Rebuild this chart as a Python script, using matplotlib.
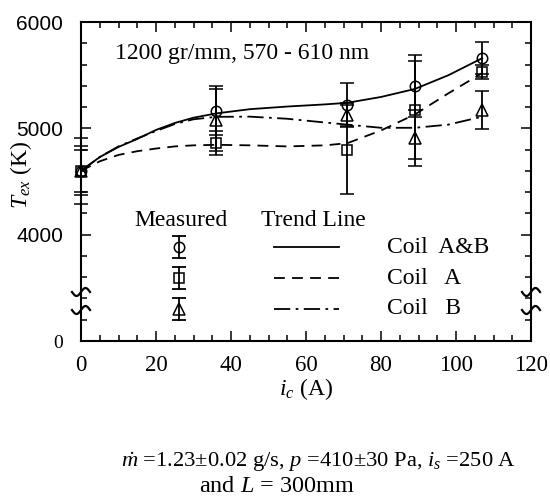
import matplotlib
matplotlib.use("Agg")
import matplotlib.pyplot as plt
import numpy as np

plt.rcParams['font.family'] = ['Liberation Serif', 'DejaVu Serif']
plt.rcParams['mathtext.fontset'] = 'custom'
plt.rcParams['mathtext.rm'] = 'Liberation Serif'
plt.rcParams['mathtext.it'] = 'Liberation Serif:italic'

# ---------------- data ----------------
current_x = [0, 36, 71, 89, 107]
coil_ab = [4600, 5165, 5220, 5400, 5665]
coil_ab_err = [230, 230, 210, 290, 150]
coil_a = [4600, 4860, 4800, 5175, 5530]
coil_a_err = [200, 115, 420, 460, 65]
coil_b = [4600, 5080, 5130, 4910, 5175]
coil_b_err = [310, 290, 110, 260, 180]

trend_x = [0, 5, 10, 15, 20, 25, 30, 36, 45, 55, 65, 71, 80, 89, 98, 107]
trend_ab = [4600, 4730, 4825, 4900, 4985, 5050, 5100, 5140, 5180, 5205, 5225, 5240, 5295, 5370, 5500, 5660]
trend_a = [4600, 4690, 4750, 4785, 4810, 4830, 4840, 4845, 4840, 4830, 4840, 4860, 4980, 5130, 5330, 5520]
trend_b = [4600, 4730, 4830, 4905, 4975, 5040, 5085, 5108, 5110, 5090, 5055, 5035, 5005, 5005, 5035, 5110]

x_ticks = [0, 20, 40, 60, 80, 100, 120]
y_ticks = [3000, 4000, 5000, 6000]
y_tick_labels = ['0', '4000', '5000', '6000']

# ---------------- figure ----------------
W, H = 550, 497
fig = plt.figure(figsize=(W / 100, H / 100), dpi=100)
ax = fig.add_axes([81 / W, 1 - 341 / H, 450 / W, 319 / H])
ax.set_xlim(0, 120)
ax.set_ylim(3000, 6000)

lw = 1.3
dash = (0, (6, 4))
dashdot = (0, (9, 3, 1.5, 3))
ax.plot(trend_x, trend_ab, color='black', lw=lw, ls='-')
ax.plot(trend_x, trend_a, color='black', lw=lw, ls=dash)
ax.plot(trend_x, trend_b, color='black', lw=lw, ls=dashdot)

ekw = dict(color='black', elinewidth=1.3, capsize=5, capthick=1.3,
           mfc='none', mec='black', mew=1.1, ls='none', clip_on=False)
ax.errorbar(current_x, coil_ab, yerr=coil_ab_err, fmt='o', ms=7.5, **ekw)
ax.errorbar(current_x, coil_a, yerr=coil_a_err, fmt='s', ms=7, **ekw)
ax.errorbar(current_x, coil_b, yerr=coil_b_err, fmt='^', ms=8, **ekw)

# ticks
ax.set_xticks(x_ticks)
ax.set_xticks(np.arange(0, 121, 5), minor=True)
ax.set_yticks(y_ticks)
ax.set_yticklabels(y_tick_labels)
ax.set_yticks(np.arange(3000, 6001, 200), minor=True)
ax.tick_params(which='both', direction='in', top=True, right=True, width=1.1)
ax.tick_params(which='major', length=7)
ax.tick_params(which='minor', length=4)
ax.tick_params(axis='x', labelsize=16.5, pad=10)
ax.tick_params(axis='y', labelsize=15, pad=13)
for lab in ax.get_yticklabels():
    if lab.get_text() != '0':
        lab.set_fontfamily('Liberation Sans')
    else:
        lab.set_fontsize(14)
for s in ax.spines.values():
    s.set_linewidth(1.5)

ax.set_xlabel(r'$i_c$ (A)', fontsize=17)
ax.xaxis.set_label_coords((306 - 81) / 450, (341 - 376) / 319)
ax.set_ylabel(r'$T_{ex}$ (K)', fontsize=17)
ax.yaxis.label.set_va('center')
ax.yaxis.set_label_coords((21 - 81) / 450, (341 - 175) / 319)

# axis break marks
def break_mark(xa, ya):
    t = np.linspace(-1, 1, 30)
    xs = xa + t * 9 / 450
    ys = ya + np.sin(t * np.pi) * 4 / 319
    ax.plot(xs, ys, color='black', lw=1.6, transform=ax.transAxes, clip_on=False)

for ya in [(341 - 292) / 319, (341 - 310) / 319]:
    break_mark(0, ya)
    break_mark(1, ya)

# annotation
ax.text((115 - 81) / 450, (341 - 53) / 319, '1200 gr/mm, 570 - 610 nm',
        transform=ax.transAxes, fontsize=17, ha='left', va='center')

# manual legend
def ax_pt(px, py):
    return (px - 81) / 450, (341 - py) / 319

tx, ty = ax_pt(181, 220)
ax.text(tx, ty, 'Measured', transform=ax.transAxes, fontsize=17, ha='center', va='center')
tx, ty = ax_pt(313, 220)
ax.text(tx, ty, 'Trend Line', transform=ax.transAxes, fontsize=17, ha='center', va='center')

rows = [(247, 'o', 7.5, '-', 'Coil  A&B'),
        (278, 's', 7, dash, 'Coil   A'),
        (309, '^', 8, dashdot, 'Coil   B')]
for py, mk, ms, ls, lab in rows:
    mx, my = ax_pt(179, py)
    dy = 11 / 319
    ax.plot([mx, mx], [my - dy, my + dy], color='black', lw=1.3, transform=ax.transAxes)
    ax.plot([mx, mx], [my - dy, my + dy], ls='none', marker='_', ms=10, mew=1.3,
            color='black', transform=ax.transAxes)
    ax.plot([mx], [my], ls='none', marker=mk, ms=ms, mfc='none', mec='black',
            mew=1.1, transform=ax.transAxes)
    x0, yl = ax_pt(274, py)
    x1, _ = ax_pt(339, py)
    ax.plot([x0, x1], [yl, yl], color='black', lw=lw, ls=ls, transform=ax.transAxes)
    lx, ly = ax_pt(387, py)
    ax.text(lx, ly, lab, transform=ax.transAxes, fontsize=17, ha='left', va='center')

# bottom caption
fig.text(318 / W, 1 - 467 / H,
         r'$\dot{m}$ =1.23±0.02 g/s, $p$ =410±30 Pa, $i_s$ =250 A',
         fontsize=16.2, ha='center', va='baseline')
fig.text(277 / W, 1 - 492 / H, r'and $L$ = 300mm',
         fontsize=17.5, ha='center', va='baseline')

fig.savefig('out.png', dpi=100)
